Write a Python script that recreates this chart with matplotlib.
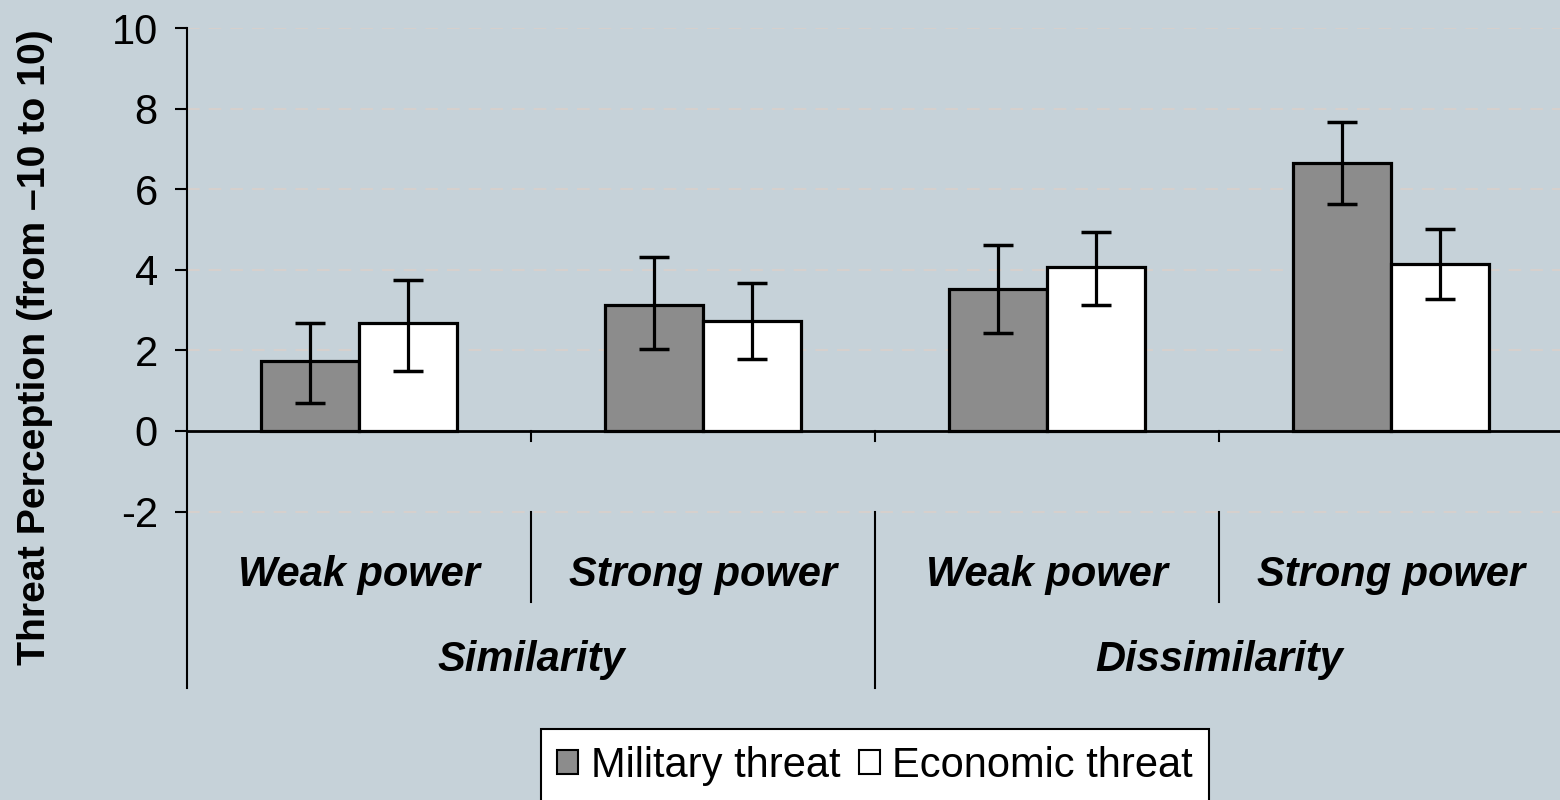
import numpy as np
import matplotlib
matplotlib.use("Agg")
import matplotlib.pyplot as plt
from matplotlib.patches import Patch

plt.rcParams['font.family'] = ['Liberation Sans', 'DejaVu Sans']

# data
power = ['Weak power', 'Strong power', 'Weak power', 'Strong power']
condition = ['Similarity', 'Dissimilarity']
military = [1.74, 3.12, 3.52, 6.66]
military_lo = [0.70, 2.03, 2.42, 5.63]
military_hi = [2.67, 4.31, 4.62, 7.67]
economic = [2.67, 2.73, 4.08, 4.14]
economic_lo = [1.49, 1.79, 3.13, 3.28]
economic_hi = [3.74, 3.68, 4.93, 5.00]
series = ['Military threat', 'Economic threat']
yticks = [-2, 0, 2, 4, 6, 8, 10]

bg = '#C6D2D9'
gray = '#8C8C8C'
fs = 30

fig = plt.figure(figsize=(15.6, 8), dpi=100)
fig.patch.set_facecolor(bg)
# group width ~344 px, so the axes runs a little past the right edge
ax = fig.add_axes([187 / 1560, 1 - 688 / 800, 1376 / 1560, (688 - 28) / 800])
ax.set_facecolor(bg)

x = np.arange(len(power))
w = 0.285
xlo, xhi = -0.5, len(power) - 0.5
ybot = -6.38
ax.set_xlim(xlo, xhi)
ax.set_ylim(ybot, 10)

# dashed grid
for t in yticks:
    if t != 0:
        ax.plot([xlo, xhi], [t, t], color='#D8D0CC', lw=1.3,
                dashes=(7, 5), zorder=1)

m_err = [np.array(military) - np.array(military_lo),
         np.array(military_hi) - np.array(military)]
e_err = [np.array(economic) - np.array(economic_lo),
         np.array(economic_hi) - np.array(economic)]
ekw = dict(elinewidth=2.3, capsize=11, capthick=2.5, ecolor='black')
ax.bar(x - w / 2, military, w, color=gray, edgecolor='black', lw=2.3,
       yerr=m_err, error_kw=ekw, zorder=3)
ax.bar(x + w / 2, economic, w, color='white', edgecolor='black', lw=2.3,
       yerr=e_err, error_kw=ekw, zorder=3)

# zero line and category ticks
ax.axhline(0, color='black', lw=2, zorder=4)
for b in np.arange(xlo + 1, xhi + 0.5, 1):
    ax.plot([b, b], [0, -0.25], color='black', lw=1.5, clip_on=False)
for i, b in enumerate(np.arange(xlo + 1, xhi, 1)):
    bottom = ybot if i == 1 else -4.24
    ax.plot([b, b], [-2, bottom], color='black', lw=1.5, clip_on=False)

# category labels
for xi, p in zip(x, power):
    ax.text(xi, -3.58, p, ha='center', va='center', fontsize=fs,
            fontweight='bold', fontstyle='italic')
for j, c in enumerate(condition):
    ax.text(2 * j + 0.5, -5.68, c, ha='center', va='center', fontsize=fs,
            fontweight='bold', fontstyle='italic')

for s in ['top', 'right', 'bottom']:
    ax.spines[s].set_visible(False)
ax.spines['left'].set_linewidth(1.5)
ax.set_xticks([])
ax.set_yticks(yticks)
ax.set_yticklabels([str(t) for t in yticks])
ax.tick_params(axis='y', length=9, width=1.5, labelsize=fs, pad=12)

fig.text(35 / 1560, 1 - 347 / 800, 'Threat Perception (from \u201310 to 10)',
         rotation=90, ha='center', va='center', fontsize=28.3, fontweight='bold')

handles = [Patch(facecolor=gray, edgecolor='black', lw=1.5),
           Patch(facecolor='white', edgecolor='black', lw=1.5)]
leg = fig.legend(handles, series, loc='upper center', ncol=2,
                 bbox_to_anchor=(875 / 1560, 1 - 729 / 800), fontsize=fs,
                 frameon=True, fancybox=False, framealpha=1,
                 handlelength=0.5, handleheight=0.5, handletextpad=0.3,
                 columnspacing=0.45, borderpad=0.4, borderaxespad=0)
leg.get_frame().set_edgecolor('black')
leg.get_frame().set_linewidth(1.5)
leg.get_frame().set_facecolor('white')

fig.savefig('out.png', dpi=100, facecolor=bg)
